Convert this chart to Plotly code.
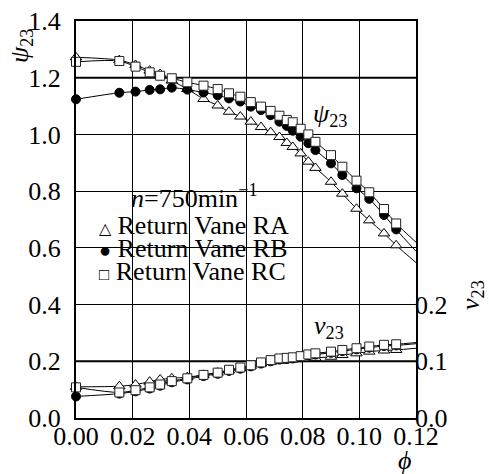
import plotly.graph_objects as go

# ---- data ----
phi = [0.0, 0.0153, 0.021, 0.026, 0.0297, 0.0338, 0.0393, 0.045, 0.050, 0.054,
       0.058, 0.0617, 0.0653, 0.0687, 0.0718, 0.0744, 0.0765, 0.0793, 0.082,
       0.0845, 0.090, 0.094, 0.099, 0.1035, 0.1087, 0.113]

psi_RA = [1.272, 1.262, 1.245, 1.225, 1.213, 1.19, 1.16, 1.125, 1.102, 1.080,
          1.063, 1.045, 1.026, 1.008, 0.991, 0.970, 0.956, 0.933, 0.904,
          0.882, 0.833, 0.791, 0.738, 0.697, 0.651, 0.609]
psi_RB = [1.124, 1.147, 1.151, 1.157, 1.159, 1.165, 1.158, 1.148, 1.138, 1.127,
          1.116, 1.098, 1.086, 1.068, 1.045, 1.030, 1.013, 0.992, 0.969,
          0.945, 0.898, 0.857, 0.810, 0.773, 0.716, 0.665]
psi_RC = [1.256, 1.259, 1.239, 1.219, 1.207, 1.198, 1.184, 1.172, 1.160, 1.145,
          1.133, 1.114, 1.098, 1.083, 1.066, 1.051, 1.043, 1.020, 1.000,
          0.974, 0.927, 0.886, 0.837, 0.796, 0.737, 0.686]

nu_RA = [0.055, 0.056, 0.059, 0.064, 0.068, 0.070, 0.072, 0.076, 0.080, 0.084,
         0.088, 0.092, 0.096, 0.099, 0.101, 0.102, 0.103, 0.104, 0.105,
         0.106, 0.108, 0.111, 0.114, 0.117, 0.119, 0.120]
nu_RB = [0.038, 0.043, 0.047, 0.052, 0.057, 0.063, 0.068, 0.074, 0.078, 0.083,
         0.087, 0.091, 0.096, 0.100, 0.103, 0.104, 0.105, 0.107, 0.110,
         0.112, 0.115, 0.118, 0.121, 0.124, 0.127, 0.128]
nu_RC = [0.054, 0.045, 0.049, 0.054, 0.059, 0.065, 0.070, 0.076, 0.080, 0.085,
         0.089, 0.093, 0.098, 0.102, 0.105, 0.106, 0.107, 0.109, 0.112,
         0.114, 0.117, 0.120, 0.123, 0.126, 0.129, 0.130]

# fitted-curve end values at phi = 0.12
phi_end = 0.12
psi_end = {"RA": 0.548, "RB": 0.588, "RC": 0.620}
nu_end = {"RA": 0.123, "RB": 0.131, "RC": 0.133}

series_names = ["Return Vane RA", "Return Vane RB", "Return Vane RC"]
x_ticks = [0.0, 0.02, 0.04, 0.06, 0.08, 0.10, 0.12]
x_ticklabels = ["0.00", "0.02", "0.04", "0.06", "0.08", "0.10", "0.12"]
y_ticks = [0.0, 0.2, 0.4, 0.6, 0.8, 1.0, 1.2, 1.4]
y_ticklabels = ["0.0", "0.2", "0.4", "0.6", "0.8", "1.0", "1.2", "1.4"]
y2_ticks = [0.0, 0.1, 0.2]
y2_ticklabels = ["0.0", "0.1", "0.2"]

FONT = "Liberation Serif"
FS = 26

# plot-area edges in window pixels
L, R, T, B = 76, 416, 21, 418
W, H = 489, 474
PW, PH = R - L, B - T


def px_x(px):
    return (px - L) / PW


def px_y(py):
    return (B - py) / PH


fig = go.Figure()

psi_data = {"RA": psi_RA, "RB": psi_RB, "RC": psi_RC}
nu_data = {"RA": nu_RA, "RB": nu_RB, "RC": nu_RC}
markers = {
    "RA": dict(symbol="triangle-up", size=10, color="white", line=dict(width=1, color="black")),
    "RB": dict(symbol="circle", size=9, color="black", line=dict(width=1, color="black")),
    "RC": dict(symbol="square", size=9, color="white", line=dict(width=1, color="#222")),
}

for key in ["RA", "RB", "RC"]:
    fig.add_trace(go.Scatter(x=phi + [phi_end], y=psi_data[key] + [psi_end[key]],
                             mode="lines", line=dict(color="black", width=1, shape="spline", smoothing=0.8),
                             showlegend=False, hoverinfo="skip", yaxis="y"))
    fig.add_trace(go.Scatter(x=phi + [phi_end], y=nu_data[key] + [nu_end[key]],
                             mode="lines", line=dict(color="black", width=1, shape="spline", smoothing=0.8),
                             showlegend=False, hoverinfo="skip", yaxis="y2"))
for key in ["RA", "RB", "RC"]:
    mk = markers[key]
    fig.add_trace(go.Scatter(x=phi, y=psi_data[key], mode="markers", marker=mk,
                             cliponaxis=False, showlegend=False, yaxis="y"))
    fig.add_trace(go.Scatter(x=phi, y=nu_data[key], mode="markers", marker=mk,
                             cliponaxis=False, showlegend=False, yaxis="y2"))

shapes = []
# white patches behind legend text (cut the grid)
shapes.append(dict(type="rect", xref="paper", yref="paper", x0=px_x(128), x1=px_x(273),
                   y0=px_y(213), y1=px_y(167), fillcolor="white", line=dict(width=0), layer="between"))
shapes.append(dict(type="rect", xref="paper", yref="paper", x0=px_x(97), x1=px_x(295),
                   y0=px_y(286), y1=px_y(213), fillcolor="white", line=dict(width=0), layer="between"))
# thicker grid lines at 0.2 and 1.2
for yv in [0.2, 1.2]:
    shapes.append(dict(type="line", xref="paper", yref="y", x0=0, x1=1, y0=yv, y1=yv,
                       line=dict(color="black", width=2), layer="between"))


def text_at(px, py, text, angle=0, xanchor="center", size=FS):
    return dict(xref="paper", yref="paper", x=px_x(px), y=px_y(py), showarrow=False,
                xanchor=xanchor, yanchor="middle", textangle=angle, text=text,
                font=dict(family=FONT, size=size, color="black"))


ann = []
ann.append(text_at(194, 196, "<i>n</i>=750min<sup>−1</sup>"))
syms = ["<span style='font-size:16px'>△</span>",
        "<span style='font-size:20px'>●</span>",
        "<span style='font-size:17px'>□</span>"]
for i, (nm, s) in enumerate(zip(series_names, syms)):
    ann.append(text_at(97, 226 + 22.5 * i, "%s %s" % (s, nm), xanchor="left"))
ann.append(text_at(330, 115, "<i>ψ</i><sub>23</sub>"))
ann.append(text_at(329, 327, "<i>ν</i><sub>23</sub>"))
ann.append(text_at(21, 46, "<i>ψ</i><sub>23</sub>", angle=-90))
ann.append(text_at(472, 295, "<i>ν</i><sub>23</sub>", angle=-90))
ann.append(text_at(404, 460, "<i>ϕ</i>"))

fig.update_layout(
    width=W, height=H,
    margin=dict(l=L, r=W - R, t=T, b=H - B, autoexpand=False),
    paper_bgcolor="white", plot_bgcolor="white",
    showlegend=False,
    font=dict(family=FONT, size=FS, color="black"),
    xaxis=dict(range=[0, 0.12], tickvals=x_ticks, ticktext=x_ticklabels, automargin=False,
               showgrid=True, gridcolor="black", gridwidth=1, zeroline=False,
               showline=True, linecolor="black", linewidth=2, mirror=True,
               ticks="", ticklabelstandoff=-6),
    yaxis=dict(range=[0, 1.4], tickvals=y_ticks, ticktext=y_ticklabels, automargin=False,
               showgrid=True, gridcolor="black", gridwidth=1, zeroline=False,
               showline=True, linecolor="black", linewidth=2, mirror=True,
               ticks="", ticklabelstandoff=8),
    yaxis2=dict(range=[0, 0.7], tickvals=y2_ticks, ticktext=y2_ticklabels, automargin=False,
                overlaying="y", side="right", showgrid=False, zeroline=False,
                showline=False, ticks="", ticklabelstandoff=-2),
    shapes=shapes, annotations=ann,
)

fig.write_html("out.html", config={"displayModeBar": False},
               post_script="document.body.style.margin='0px';document.body.style.padding='0px';"
                           "document.body.style.overflow='hidden';")
